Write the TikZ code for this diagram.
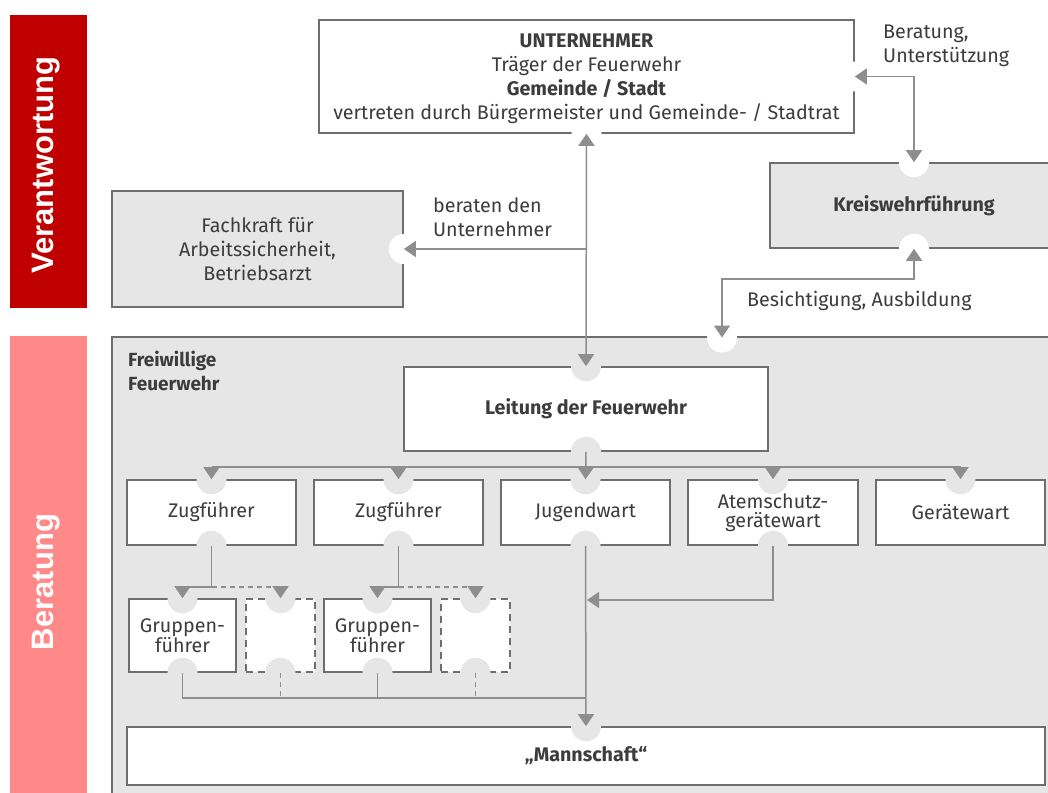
\documentclass[tikz,border=0pt]{standalone}
\usepackage{fontspec}
\setmainfont{Fira Sans}
\newfontfamily\barfont{Liberation Sans}
\usetikzlibrary{arrows.meta,calc}
\definecolor{txt}{HTML}{3C3C3C}
\definecolor{bord}{HTML}{6E6E6E}
\definecolor{conn}{HTML}{8E8E8E}
\definecolor{lgray}{HTML}{E6E6E6}
\definecolor{barred}{HTML}{C00000}
\definecolor{barpink}{HTML}{FF8888}
\begin{document}
\begin{tikzpicture}[x=1pt,y=-1pt,
  box/.style={draw=bord,line width=1.6pt,fill=white,inner sep=0pt,align=center,text=txt,
    font=\fontsize{19.7}{24}\selectfont},
  graybox/.style={box,fill=lgray},
  dbox/.style={box,dash pattern=on 7pt off 5pt},
  tight/.style={font=\fontsize{19.7}{19.5}\selectfont},
  lbl/.style={text=txt,align=left,inner sep=0pt,anchor=west,font=\fontsize{19.7}{24}\selectfont},
  line/.style={draw=conn,line width=1.5pt},
  dline/.style={line,dash pattern=on 5pt off 4pt},
  arr/.style={line,-{Triangle[length=12pt,width=16pt]}},
  darr/.style={line,{Triangle[length=12pt,width=16pt]}-{Triangle[length=12pt,width=16pt]}},
  notchw/.style={fill=white},
  notchg/.style={fill=lgray},
  bartext/.style={rotate=90,text=white,inner sep=0pt,font=\barfont\bfseries\fontsize{31}{31}\selectfont}
]
\useasboundingbox (0,0) rectangle (1048,792);
\clip (0,0) rectangle (1048,792);
\fill[white] (0,0) rectangle (1048,792);

% side bars
\fill[barred] (10,15) rectangle (87,308);
\node[bartext] (verant) at (46,165) {Verantwortung};
\fill[barpink] (10,336) rectangle (87,800);
\node[bartext] (berat) at (46,582) {Beratung};

% top area
\node[box,minimum width=535pt,minimum height=113pt] (unt) at (586.5,76.5) {};
\node[text=txt,align=center,inner sep=0pt,font=\fontsize{19.7}{24}\selectfont] (unttext) at (586.5,79)
  {\textbf{UNTERNEHMER}\\Träger der Feuerwehr\\\textbf{Gemeinde / Stadt}\\vertreten durch Bürgermeister und Gemeinde- / Stadtrat};
\node[graybox,minimum width=288pt,minimum height=85pt] (kw) at (914,205.5) {\textbf{Kreiswehrführung}};
\node[graybox,minimum width=291pt,minimum height=116pt] (fach) at (257.5,249)
  {Fachkraft für\\Arbeitssicherheit,\\Betriebsarzt};

\node[lbl] (lbera) at (883,46) {Beratung,\\Unterstützung};
\node[lbl] (lbrat) at (433,217) {beraten den\\Unternehmer};
\node[lbl] (lbes) at (747,301) {Besichtigung, Ausbildung};

% Freiwillige Feuerwehr
\node[graybox,minimum width=948pt,minimum height=463pt] (ffw) at (586,568.5) {};
\node[lbl,font=\fontsize{19}{24}\selectfont\bfseries] (lffw) at (128,371) {Freiwillige\\Feuerwehr};

\node[box,minimum width=364pt,minimum height=84pt] (leit) at (586,409) {\textbf{Leitung der Feuerwehr}};

\node[box,minimum width=169pt,minimum height=65pt] (zf1) at (211.5,512.5) {Zugführer};
\node[box,minimum width=169pt,minimum height=65pt] (zf2) at (398.5,512.5) {Zugführer};
\node[box,minimum width=169pt,minimum height=65pt] (jug) at (585.5,512.5) {Jugendwart};
\node[box,minimum width=170pt,minimum height=65pt,tight] (atem) at (773,512.5) {Atemschutz-\\gerätewart};
\node[box,minimum width=169pt,minimum height=65pt] (gw) at (960.5,512.5) {Gerätewart};

\node[box,minimum width=107pt,minimum height=73pt,tight] (gf1) at (182.5,635.5) {Gruppen-\\führer};
\node[dbox,minimum width=69pt,minimum height=73pt] (d1) at (280.5,635.5) {};
\node[box,minimum width=107pt,minimum height=73pt,tight] (gf2) at (377.5,635.5) {Gruppen-\\führer};
\node[dbox,minimum width=69pt,minimum height=73pt] (d2) at (475.5,635.5) {};

\node[box,minimum width=918pt,minimum height=58pt] (mann) at (586,756) {\textbf{„Mannschaft“}};

% notches
\coordinate (fftop) at (722,337.5);
\foreach \p in {unt.south,unt.east,kw.north,kw.south,fach.east,fftop}
  \fill[notchw] (\p) circle[radius=15pt];
\foreach \p in {leit.north,leit.south,zf1.north,zf1.south,zf2.north,zf2.south,
  jug.north,jug.south,atem.north,atem.south,gw.north,
  gf1.north,gf1.south,d1.north,d1.south,gf2.north,gf2.south,d2.north,d2.south,mann.north}
  \fill[notchg] (\p) circle[radius=15pt];

% connectors top
\draw[darr] (unt.south) -- (leit.north);
\draw[arr] (unt.south |- fach.east) -- (fach.east);
\draw[darr] (unt.east) -| (kw.north);
\coordinate (bes) at (722,279);
\draw[darr] (fftop) -- (bes) -| (kw.south);

% distribution
\coordinate (dl) at (0,467);
\draw[line] (zf1.north |- dl) -- (gw.north |- dl);
\foreach \n in {zf1,zf2,atem,gw}
  \draw[arr] (\n.north |- dl) -- (\n.north);
\draw[arr] (leit.south) -- (jug.north);

% Zugführer to Gruppenführer
\coordinate (ga) at (0,587);
\draw[line] (zf1.south) -- (zf1.south |- ga) -- (gf1.north |- ga);
\draw[dline] (zf1.south |- ga) -- (d1.north |- ga);
\draw[arr] (gf1.north |- ga) -- (gf1.north);
\draw[arr] (d1.north |- ga) -- (d1.north);
\draw[line] (zf2.south) -- (zf2.south |- ga) -- (gf2.north |- ga);
\draw[dline] (zf2.south |- ga) -- (d2.north |- ga);
\draw[arr] (gf2.north |- ga) -- (gf2.north);
\draw[arr] (d2.north |- ga) -- (d2.north);

% to Mannschaft
\coordinate (gb) at (0,698);
\draw[line] (gf1.south) -- (gf1.south |- gb) -- (jug.south |- gb);
\draw[line] (gf2.south) -- (gf2.south |- gb);
\draw[dline] (d1.south) -- (d1.south |- gb);
\draw[dline] (d2.south) -- (d2.south |- gb);
\draw[arr] (jug.south) -- (mann.north);
\coordinate (gc) at (0,600);
\draw[arr] (atem.south) -- (atem.south |- gc) -- ($(jug.south |- gc)+(1.5,0)$);
\end{tikzpicture}
\end{document}
